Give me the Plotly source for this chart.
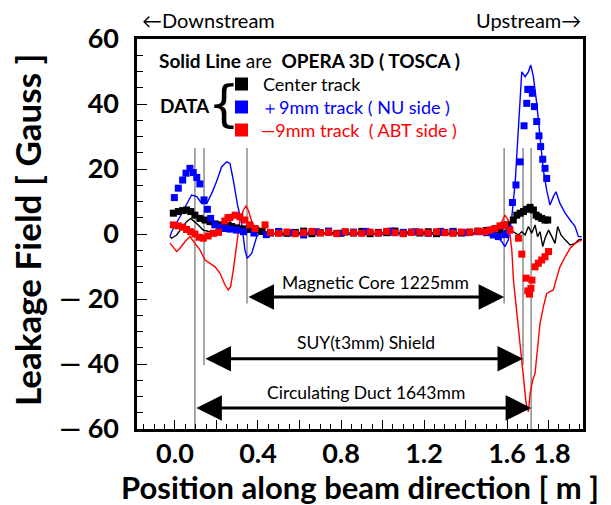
import plotly.graph_objects as go

# ---------------- data ----------------
# Simulation (OPERA 3D / TOSCA) solid lines
sim_center_x = [-0.024, -0.016, 0.008, 0.032, 0.056, 0.076, 0.096, 0.112, 0.136, 0.169, 0.2, 0.225, 0.249, 0.265, 0.281, 0.305, 0.33, 0.353, 0.377,
                0.40, 0.43, 0.46, 0.49, 0.52, 0.55, 0.58, 0.61, 0.64, 0.67, 0.70, 0.73, 0.76, 0.79, 0.82, 0.85, 0.88, 0.91, 0.94, 0.97, 1.00,
                1.03, 1.06, 1.09, 1.12, 1.15, 1.18, 1.21, 1.24, 1.27, 1.30, 1.33, 1.36, 1.39, 1.42, 1.45,
                1.47, 1.534, 1.582, 1.606, 1.63, 1.655, 1.671, 1.687, 1.703, 1.719, 1.735, 1.747, 1.759, 1.772, 1.783, 1.8, 1.816, 1.831,
                1.844, 1.86, 1.88, 1.904, 1.928, 1.944, 1.96]
sim_center_y = [-0.8, -1.3, -0.3, 1.7, 3.8, 4.8, 3.8, 2.8, 1.2, 0.7, 1.2, 1.7, 2.8, 3.8, 2.8, 0.7, 0.2, 1.2, 0.2,
                0.5, -0.2, 0.4, 0.1, -0.3, 0.5, 0.0, 0.6, -0.2, 0.3, 0.7, -0.1, 0.4, 0.0, 0.5, -0.3, 0.3, 0.6, -0.1, 0.2, 0.5,
                -0.2, 0.4, 0.1, 0.6, -0.1, 0.3, 0.0, 0.5, -0.2, 0.4, 0.1, 0.3, -0.1, 0.4, 0.2,
                0.4, 0.2, 0.7, 1.7, 0.7, -0.3, 0.7, -0.3, 2.3, 0.2, 2.8, -0.8, 0.7, -3.9, -1.3, 1.2, -0.8, -2.9,
                2.3, -0.3, -1.8, -3.4, -2.9, -1.8, -1.6]

sim_nu_x = [-0.024, -0.016, 0.024, 0.056, 0.08, 0.105, 0.129, 0.153, 0.177, 0.2, 0.225, 0.249, 0.265, 0.281, 0.3, 0.321, 0.337, 0.348, 0.37, 0.394, 0.41,
            0.44, 0.47, 0.50, 0.53, 0.56, 0.59, 0.62, 0.65, 0.68, 0.71, 0.74, 0.77, 0.80, 0.83, 0.86, 0.89, 0.92, 0.95, 0.98, 1.01,
            1.04, 1.07, 1.10, 1.13, 1.16, 1.19, 1.22, 1.25, 1.28, 1.31, 1.34, 1.37, 1.40, 1.43,
            1.47, 1.518, 1.55, 1.575, 1.59, 1.606, 1.623, 1.639, 1.655, 1.671, 1.687, 1.695, 1.703, 1.714, 1.727, 1.743, 1.759, 1.775,
            1.791, 1.807, 1.823, 1.836, 1.855, 1.88, 1.904, 1.928, 1.944, 1.96]
sim_nu_y = [-0.8, 0.7, 5.3, 9.4, 12.0, 11.5, 9.4, 9.4, 12.5, 16.1, 20.7, 22.2, 21.7, 16.6, 9.4, 3.3, -4.9, -7.5, -5.9, -0.8, 0.2,
            -0.4, 0.3, -0.6, 0.1, -0.3, 0.4, -0.5, 0.2, -0.2, 0.3, -0.4, 0.1, -0.3, 0.2, -0.5, 0.1, -0.2, 0.3, -0.4, 0.0,
            -0.3, 0.2, -0.4, 0.1, -0.2, 0.3, -0.3, 0.0, -0.4, 0.2, -0.2, 0.1, -0.3, 0.0,
            0.2, -0.3, -0.8, -2.4, -3.9, -1.8, 5.3, 15.6, 32.0, 49.9, 48.4, 49.4, 49.9, 52.0, 48.4, 40.2, 29.9, 19.7,
            13.5, 8.9, 11.5, 13.0, 9.4, 6.4, 4.3, 2.3, -0.8, -0.8]

sim_abt_x = [-0.024, 0.008, 0.024, 0.048, 0.072, 0.096, 0.12, 0.145, 0.169, 0.193, 0.217, 0.241, 0.257, 0.268, 0.281, 0.297, 0.313, 0.33, 0.342, 0.353, 0.37, 0.394, 0.418,
             0.45, 0.48, 0.51, 0.54, 0.57, 0.60, 0.63, 0.66, 0.69, 0.72, 0.75, 0.78, 0.81, 0.84, 0.87, 0.90, 0.93, 0.96, 0.99,
             1.02, 1.05, 1.08, 1.11, 1.14, 1.17, 1.20, 1.23, 1.26, 1.29, 1.32, 1.35, 1.38, 1.41, 1.44,
             1.47, 1.518, 1.55, 1.575, 1.59, 1.606, 1.623, 1.631, 1.647, 1.66, 1.671, 1.679, 1.692, 1.703, 1.711, 1.724, 1.735, 1.743,
             1.759, 1.775, 1.791, 1.807, 1.823, 1.836, 1.855, 1.88, 1.904, 1.928, 1.944, 1.96]
sim_abt_y = [-2.8, -5.4, -4.4, -2.4, -0.8, -3.0, -4.9, -8.0, -9.0, -10.1, -12.1, -15.7, -17.2, -16.2, -11.1, -2.9, 4.3, 7.4, 8.6, 7.4, 3.8, 1.2, 0.2,
             0.6, -0.1, 0.4, 0.0, 0.5, -0.2, 0.3, 0.6, 0.0, 0.4, -0.1, 0.5, 0.1, 0.3, 0.7, 0.0, 0.4, 0.2, 0.6,
             -0.1, 0.3, 0.5, 0.0, 0.4, 0.2, 0.6, 0.1, 0.3, 0.5, 0.0, 0.4, 0.2, 0.5, 0.3,
             0.4, 1.2, 2.3, 3.8, 5.8, 4.3, -4.9, -14.2, -24.4, -31.6, -37.7, -44.9, -52.1, -54.7, -49.0, -44.9, -42.9, -37.7,
             -27.5, -22.4, -18.3, -17.7, -17.2, -14.2, -10.1, -7.0, -4.4, -2.9, -2.4, -1.8]

# Measured data (squares)
data_center_x = [-0.008, 0.016, 0.037, 0.056, 0.076, 0.096, 0.12, 0.145, 0.169, 0.193, 0.217, 0.24, 0.273, 0.297, 0.33, 0.36, 0.39,
                 0.42, 0.46, 0.50, 0.54, 0.58, 0.62, 0.66, 0.70, 0.74, 0.78, 0.82, 0.86, 0.90, 0.94, 0.98, 1.02, 1.06, 1.10,
                 1.14, 1.18, 1.22, 1.26, 1.30, 1.34, 1.38, 1.42, 1.46, 1.50, 1.53,
                 1.566, 1.598, 1.63, 1.647, 1.663, 1.679, 1.695, 1.711, 1.727, 1.74, 1.751, 1.767, 1.783, 1.796]
data_center_y = [6.4, 6.9, 7.2, 7.4, 6.9, 5.8, 4.8, 4.3, 3.8, 3.1, 2.8, 2.5, 2.3, 1.9, 1.6, 1.4, 1.2,
                 0.8, 0.3, 0.6, 0.2, 0.5, 0.9, 0.1, 0.4, 0.7, 0.2, 0.6, 0.3, 0.8, 0.1, 0.5, 0.4, 0.9, 0.2,
                 0.6, 0.3, 0.7, 0.1, 0.5, 0.8, 0.3, 0.6, 0.9, 1.1, 1.2,
                 1.2, 2.8, 4.3, 5.8, 6.4, 6.9, 7.6, 8.2, 7.4, 5.8, 5.3, 4.8, 4.3, 4.3]

data_nu_x = [-0.003, 0.016, 0.037, 0.053, 0.072, 0.088, 0.105, 0.12, 0.14, 0.156, 0.172, 0.193, 0.217, 0.24, 0.265, 0.297, 0.33,
             0.38, 0.44, 0.50, 0.56, 0.62, 0.68, 0.74, 0.80, 0.86, 0.92, 0.98, 1.04, 1.10, 1.16, 1.22, 1.28, 1.34, 1.40, 1.46,
             1.502, 1.534, 1.558, 1.59, 1.61,
             1.626, 1.643, 1.663, 1.682, 1.695, 1.70, 1.714, 1.722, 1.732, 1.743, 1.754, 1.762, 1.772, 1.783, 1.791]
data_nu_y = [11.2, 14.1, 16.6, 18.7, 20.2, 18.9, 17.4, 15.4, 10.5, 7.6, 4.8, 2.8, 2.0, 1.7, 1.5, 1.2, 0.7,
             0.3, -0.2, 0.8, 0.4, -0.3, 0.7, 0.9, 0.2, 0.6, 0.8, 0.3, 0.9, 0.5, 0.7, 0.2, 0.8, 0.6, 0.4, 0.7,
             0.4, -0.3, -0.8, -0.2, 1.5,
             9.7, 15.1, 22.2, 33.3, 40.2, 44.5, 44.5, 43.3, 39.2, 34.6, 30.2, 26.9, 23.0, 20.2, 17.1]

data_abt_x = [-0.008, 0.016, 0.037, 0.056, 0.076, 0.096, 0.117, 0.136, 0.16, 0.185, 0.21, 0.24, 0.255, 0.265, 0.29, 0.313, 0.337, 0.36, 0.386, 0.434,
              0.46, 0.50, 0.54, 0.58, 0.62, 0.66, 0.70, 0.74, 0.78, 0.82, 0.86, 0.90, 0.94, 0.98, 1.02, 1.06, 1.10, 1.14,
              1.18, 1.22, 1.26, 1.30, 1.34, 1.38, 1.42, 1.46,
              1.494, 1.518, 1.542, 1.566, 1.59, 1.614, 1.655, 1.671, 1.692, 1.70, 1.708, 1.715, 1.72, 1.735, 1.751, 1.767, 1.783, 1.8]
data_abt_y = [2.8, 2.5, 2.1, 1.4, 0.7, 0.0, -1.0, -1.3, -0.6, 0.2, 0.5, 4.0, 5.0, 5.1, 5.8, 5.3, 4.3, 2.8, 1.7, 2.8,
              0.5, 0.2, 0.6, 0.1, 0.4, 0.8, 0.3, 0.5, 0.1, 0.7, 0.4, 0.2, 0.6, 0.3, 0.8, 0.4, 0.1, 0.5,
              0.6, 0.3, 0.7, 0.4, 0.2, 0.6, 0.5, 0.8,
              0.7, 1.2, 1.7, 2.5, 2.8, 1.2, -1.3, -6.2, -13.6, -17.5, -18.5, -16.7, -14.2, -10.1, -9.0, -8.0, -7.0, -5.4]

# Component boundaries [m] and dimension-arrow heights [Gauss]
core_ends = [0.347, 1.586]
shield_ends = [0.14, 1.677]
duct_ends = [0.096, 1.716]
core_arrow_y = -19.4
shield_arrow_y = -38.4
duct_arrow_y = -53.5
line_top = 26.5

x_range = [-0.183, 1.966]
y_range = [-60, 60]
x_labelvals = [0.0, 0.4, 0.8, 1.2, 1.6, 1.8]
x_labeltext = ["0.0", "0.4", "0.8", "1.2", "1.6", "\u00a01.8"]
y_labelvals = [-60, -40, -20, 0, 20, 40, 60]
y_labeltext = ["\u2014 60", "\u2014 40", "\u2014 20", "0", "20", "40", "60"]

FONT = "Lato"
BLUE = "#0000FF"
RED = "#FF0000"
GRAY = "#8C8C8C"

fig = go.Figure()

for xs, ys, c in [(sim_center_x, sim_center_y, "black"), (sim_nu_x, sim_nu_y, BLUE), (sim_abt_x, sim_abt_y, RED)]:
    fig.add_trace(go.Scatter(x=xs, y=ys, mode="lines", line=dict(color=c, width=1.4), showlegend=False, hoverinfo="skip"))

for xs, ys, c in [(data_center_x, data_center_y, "black"), (data_nu_x, data_nu_y, BLUE), (data_abt_x, data_abt_y, RED)]:
    fig.add_trace(go.Scatter(x=xs, y=ys, mode="markers",
                             marker=dict(symbol="square", size=7, color=c, line=dict(width=0)),
                             showlegend=False, hoverinfo="skip"))

# empty traces so that the label-only overlay axes are drawn
fig.add_trace(go.Scatter(x=[], y=[], xaxis="x2", yaxis="y", mode="markers", showlegend=False, hoverinfo="skip"))
fig.add_trace(go.Scatter(x=[], y=[], xaxis="x", yaxis="y2", mode="markers", showlegend=False, hoverinfo="skip"))

# vertical boundary lines
shapes = []
for xv, ybot in [(core_ends[0], core_arrow_y), (core_ends[1], core_arrow_y),
                 (shield_ends[0], shield_arrow_y), (shield_ends[1], shield_arrow_y),
                 (duct_ends[0], -60), (duct_ends[1], -60)]:
    shapes.append(dict(type="line", xref="x", yref="y", x0=xv, x1=xv, y0=ybot - 2, y1=line_top,
                       line=dict(color=GRAY, width=1.5), layer="below"))

# legend squares (paper coords)
W, H = 446.0, 390.0
def px2paper(px, py):
    return (px - 137) / W, (429 - py) / H

for py, c in [(84, "black"), (107, BLUE), (130, RED)]:
    x0, y0 = px2paper(235, py + 6.5)
    x1, y1 = px2paper(248, py - 6.5)
    shapes.append(dict(type="rect", xref="paper", yref="paper", x0=x0, x1=x1, y0=y0, y1=y1,
                       fillcolor=c, line=dict(width=0)))

annotations = []
# dimension arrows
for (xa, xb), ya in [(core_ends, core_arrow_y), (shield_ends, shield_arrow_y), (duct_ends, duct_arrow_y)]:
    annotations.append(dict(x=xb, y=ya, ax=xa, ay=ya, xref="x", yref="y", axref="x", ayref="y",
                            text="", showarrow=True, arrowhead=2, arrowside="end+start",
                            arrowsize=1.7, arrowwidth=3, arrowcolor="black", standoff=0, startstandoff=0))

def txt(text, px, py, size, color="black", xanchor="center", font=FONT, **kw):
    xp, yp = px2paper(px, py)
    annotations.append(dict(text=text, x=xp, y=yp, xref="paper", yref="paper", showarrow=False,
                            xanchor=xanchor, yanchor="middle", font=dict(family=font, size=size, color=color), **kw))

txt("Magnetic Core 1225mm", 375, 282, 17.5)
txt("SUY(t3mm) Shield", 366, 342, 17.5)
txt("Circulating Duct 1643mm", 366, 392, 17.5)

txt("\u2190Downstream", 140, 20, 20, xanchor="left")
txt("Upstream\u2192", 583, 20, 20, xanchor="right")

txt("<b>Solid Line</b> are  <b>OPERA 3D ( TOSCA )</b>", 157, 60, 19, xanchor="left")
txt("<b>DATA</b>", 158, 106, 19, xanchor="left")
txt("{", 224, 104, 50, xanchor="center", font="DejaVu Sans")
txt("Center track", 261, 84, 18, xanchor="left")
txt("\uff0b9mm track ( NU side )", 259, 107, 18, color=BLUE, xanchor="left")
txt("\u20149mm track  ( ABT side )", 259, 130, 18, color=RED, xanchor="left")

# axis titles
txt("<b>Position along beam direction [ m ]</b>", 360, 487, 31)
txt("<b>Leakage Field [ Gauss ]</b>", 27, 230, 35, textangle=-90)

frame = dict(showline=True, linecolor="black", linewidth=2.5, mirror=True, showgrid=False, zeroline=False)

fig.update_layout(
    width=611, height=505,
    margin=dict(l=137, r=28, t=39, b=76),
    paper_bgcolor="white", plot_bgcolor="white",
    shapes=shapes, annotations=annotations,
    showlegend=False,
    xaxis=dict(range=x_range, tickmode="linear", tick0=0, dtick=0.2, showticklabels=False,
               ticks="inside", ticklen=9, tickwidth=1.2, tickcolor="black",
               minor=dict(tickmode="linear", tick0=0, dtick=0.05, ticks="inside", ticklen=5, tickwidth=1, tickcolor="black"),
               **frame),
    yaxis=dict(range=y_range, tickmode="linear", tick0=0, dtick=20, showticklabels=False,
               ticks="inside", ticklen=10, tickwidth=1.2, tickcolor="black",
               minor=dict(tickmode="linear", tick0=0, dtick=5, ticks="inside", ticklen=6, tickwidth=1, tickcolor="black"),
               **frame),
    xaxis2=dict(overlaying="x", anchor="y", side="bottom", range=x_range, tickmode="array",
                tickvals=x_labelvals, ticktext=x_labeltext, ticks="", showline=False, showgrid=False, zeroline=False,
                tickangle=0, ticklabelstandoff=6,
                tickfont=dict(family=FONT, size=27, color="black", weight="bold")),
    yaxis2=dict(overlaying="y", anchor="x", side="left", range=y_range, tickmode="array",
                tickvals=y_labelvals, ticktext=y_labeltext, ticks="", showline=False, showgrid=False, zeroline=False,
                ticklabelstandoff=17,
                tickfont=dict(family=FONT, size=27, color="black", weight="bold")),
)

fig.write_html("out.html")
